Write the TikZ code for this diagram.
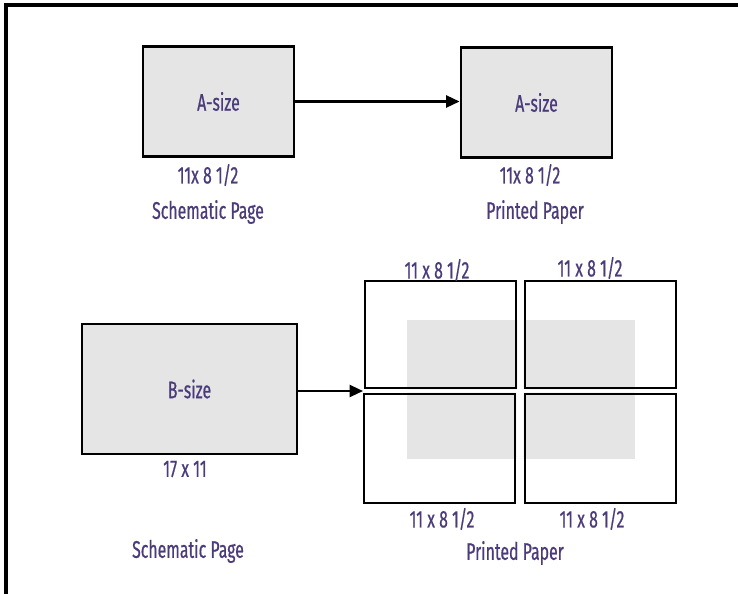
\documentclass[tikz,border=0pt]{standalone}
\usepackage{fontspec}
\setmainfont{Fira Sans}[FakeStretch=0.66,FakeBold=0.6]
\usetikzlibrary{arrows.meta}
\definecolor{txt}{HTML}{4B3B7A}
\definecolor{pg}{HTML}{E5E5E5}
\begin{document}
\begin{tikzpicture}[x=0.75pt,y=-0.75pt,
  lbl/.style={text=txt,font=\fontsize{18}{20}\selectfont,inner sep=0pt},
  pagebox/.style={draw=black,line width=2.2pt,fill=pg,inner sep=0pt,text=txt,font=\fontsize{18}{20}\selectfont},
  sheet/.style={draw=black,line width=2.2pt,inner sep=0pt,minimum width=113.25pt},
  conn/.style={line width=1.6pt,-{Triangle[length=10pt,width=9pt]}}]
\useasboundingbox (0,0) rectangle (738,593);
\draw[line width=2.8pt] (6,600) -- (6,5) -- (745,5);
% top row
\node[pagebox,minimum width=113.25pt,minimum height=82pt] (A1) at (218.5,101.5) {A-size};
\node[pagebox,minimum width=113.25pt,minimum height=82pt] (A2) at (536.5,102.5) {A-size};
\draw[conn] (A1.east) -- (A1.east -| A2.west);
\node[lbl] (l1) at (208,175) {11x 8 1/2};
\node[lbl] (l2) at (208,212) {Schematic Page};
\node[lbl] (l3) at (530,175) {11x 8 1/2};
\node[lbl] (l4) at (535,212) {Printed Paper};
% bottom row
\node[pagebox,minimum width=161.25pt,minimum height=97.5pt] (B) at (189.5,389) {B-size};
\node[sheet,minimum height=80.25pt] (TL) at (440.5,334.5) {};
\node[sheet,minimum height=80.25pt] (TR) at (600.5,334.5) {};
\node[sheet,minimum height=81.75pt] (BL) at (439.5,448.5) {};
\node[sheet,minimum height=81.75pt] (BR) at (600.5,448.5) {};
\begin{scope}
\clip (TL.north west) rectangle (TL.south east)
      (TR.north west) rectangle (TR.south east)
      (BL.north west) rectangle (BL.south east)
      (BR.north west) rectangle (BR.south east);
\fill[pg] (407,320) rectangle (635,459);
\end{scope}
\node[sheet,minimum height=80.25pt] at (TL) {};
\node[sheet,minimum height=80.25pt] at (TR) {};
\node[sheet,minimum height=81.75pt] at (BL) {};
\node[sheet,minimum height=81.75pt] at (BR) {};
\coordinate (tip) at (363,391);
\draw[conn] (B.east |- tip) -- (tip);
\node[lbl] (q1) at (437,270) {11 x 8 1/2};
\node[lbl] (q2) at (590,268) {11 x 8 1/2};
\node[lbl] (q3) at (442,519) {11 x 8 1/2};
\node[lbl] (q4) at (592,519) {11 x 8 1/2};
\node[lbl] (l5) at (185,469) {17 x 11};
\node[lbl] (l6) at (188,551) {Schematic Page};
\node[lbl] (l7) at (515,553) {Printed Paper};
\end{tikzpicture}
\end{document}
